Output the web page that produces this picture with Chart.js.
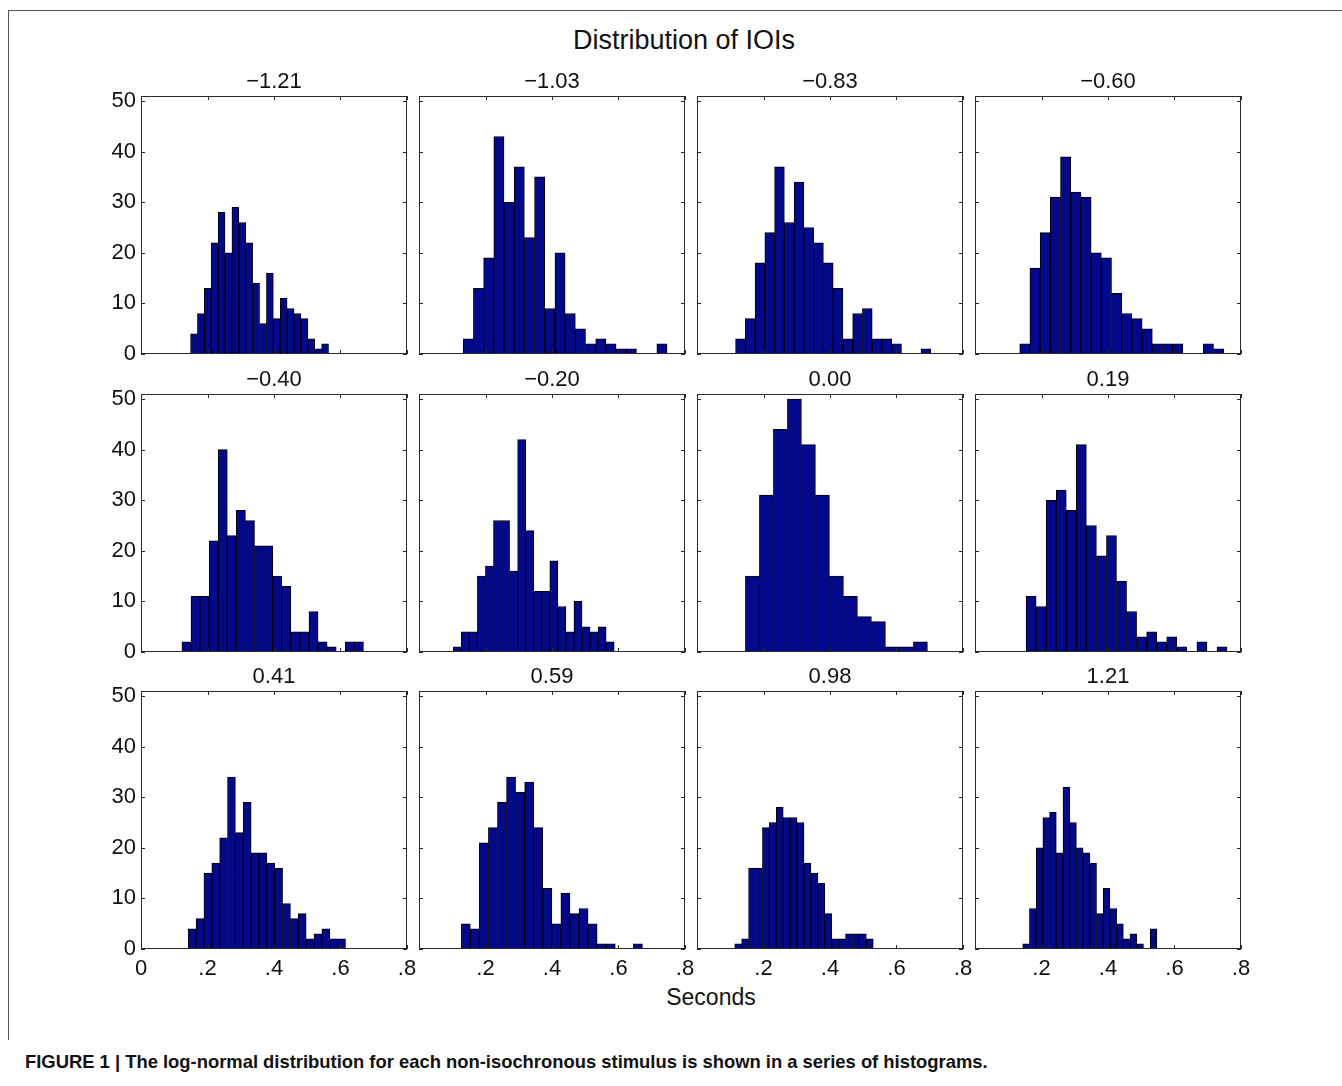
<!DOCTYPE html>
<html>
<head>
<meta charset="utf-8">
<title>Distribution of IOIs</title>
<script src="https://cdn.jsdelivr.net/npm/chart.js@4.4.1/dist/chart.umd.min.js"></script>
<style>
  body { margin: 0; background: #fff; font-family: "Liberation Sans", Arial, sans-serif; color: #111; }
  #page { position: relative; width: 1342px; height: 1086px; overflow: hidden; }
  #page canvas { position: absolute; }
  .frameTop { position: absolute; left: 8px; top: 10px; width: 1334px; height: 1px; background: #555; }
  .frameLeft { position: absolute; left: 8px; top: 10px; width: 1px; height: 1030px; background: #555; }
  #mainTitle { position: absolute; left: 434px; top: 23px; width: 500px; text-align: center; font-size: 27px; line-height: 34px; }
  #xTitle { position: absolute; left: 611px; top: 983px; width: 200px; text-align: center; font-size: 23px; line-height: 28px; }
  #caption { position: absolute; left: 25px; top: 1051px; font-size: 18.4px; line-height: 22px; font-weight: bold; white-space: nowrap; }
</style>
</head>
<body>
<div id="page">
  <div class="frameTop"></div>
  <div class="frameLeft"></div>
  <div id="mainTitle">Distribution of IOIs</div>
  <div id="xTitle">Seconds</div>
  <div id="caption">FIGURE 1 | The log-normal distribution for each non-isochronous stimulus is shown in a series of histograms.</div>
</div>
<script>
// panel titles (stimulus parameter)
const panelTitles = ["−1.21", "−1.03", "−0.83", "−0.60", "−0.40", "−0.20", "0.00", "0.19", "0.41", "0.59", "0.98", "1.21"];

// histogram range (seconds) of each panel
const binLo = [0.149, 0.133, 0.116, 0.1345, 0.123, 0.103, 0.1456, 0.1536, 0.142, 0.127, 0.1135, 0.1436];
const binHi = [0.564, 0.746, 0.703, 0.748, 0.669, 0.587, 0.693, 0.758, 0.615, 0.672, 0.530, 0.547];

// counts per bin
const counts_n121 = [4, 8, 13, 22, 28, 20, 29, 26, 22, 14, 6, 16, 7, 11, 9, 8, 7, 3, 1, 2];
const counts_n103 = [3, 13, 19, 43, 30, 37, 23, 35, 9, 20, 8, 5, 2, 3, 2, 1, 1, 0, 0, 2];
const counts_n083 = [3, 7, 18, 24, 37, 26, 34, 25, 22, 18, 13, 3, 8, 9, 3, 3, 2, 0, 0, 1];
const counts_n060 = [2, 17, 24, 31, 39, 32, 31, 20, 19, 12, 8, 7, 5, 2, 2, 2, 0, 0, 2, 1];
const counts_n040 = [2, 11, 11, 22, 40, 23, 28, 26, 21, 21, 15, 13, 4, 4, 8, 2, 1, 0, 2, 2];
const counts_n020 = [1, 4, 4, 15, 17, 26, 26, 16, 42, 24, 12, 12, 18, 9, 4, 10, 5, 4, 5, 2];
const counts_000 = [15, 31, 44, 50, 41, 31, 15, 11, 7, 6, 1, 1, 2];
const counts_019 = [11, 9, 30, 32, 28, 41, 25, 19, 23, 14, 8, 3, 4, 2, 3, 1, 0, 2, 0, 1];
const counts_041 = [4, 6, 15, 17, 22, 34, 23, 29, 19, 19, 17, 16, 9, 6, 7, 2, 3, 4, 2, 2];
const counts_059 = [5, 4, 21, 24, 29, 34, 31, 33, 24, 12, 5, 11, 7, 8, 5, 1, 1, 0, 0, 1];
const counts_098 = [1, 2, 16, 16, 24, 25, 28, 26, 26, 25, 17, 15, 13, 7, 2, 2, 3, 3, 3, 2];
const counts_121 = [1, 8, 20, 26, 27, 19, 32, 25, 20, 19, 17, 7, 12, 8, 5, 2, 3, 1, 0, 4];

const allCounts = [counts_n121, counts_n103, counts_n083, counts_n060, counts_n040, counts_n020,
                   counts_000, counts_019, counts_041, counts_059, counts_098, counts_121];

// axis ticks
const xTickValues = [0, 0.2, 0.4, 0.6, 0.8];
const xTickLabels = ["0", ".2", ".4", ".6", ".8"];
const yTickValues = [0, 10, 20, 30, 40, 50];
const yTickLabels = ["0", "10", "20", "30", "40", "50"];

// layout
const plotLeft = [141, 419, 697, 975];
const plotTop = [96, 394, 691];
const plotW = 266, plotH = 258;
const padL = 50, padT = 40, padB = 45;

Chart.defaults.font.family = '"Liberation Sans", Arial, sans-serif';
Chart.defaults.color = "#111";

// matlab style box with inward tick marks
const boxTicks = {
  id: "boxTicks",
  afterDraw(chart) {
    const ctx = chart.ctx;
    const a = chart.chartArea;
    const xs = chart.scales.x, ys = chart.scales.y;
    ctx.save();
    ctx.strokeStyle = "#2a2a2a";
    ctx.lineWidth = 1;
    ctx.strokeRect(Math.round(a.left) + 0.5, Math.round(a.top) + 0.5,
                   Math.round(a.right - a.left) - 1, Math.round(a.bottom - a.top) - 1);
    ctx.beginPath();
    xs.ticks.forEach(t => {
      const px = Math.round(xs.getPixelForValue(t.value)) + 0.5;
      ctx.moveTo(px, a.bottom); ctx.lineTo(px, a.bottom - 4);
      ctx.moveTo(px, a.top); ctx.lineTo(px, a.top + 4);
    });
    ys.ticks.forEach(t => {
      const py = Math.round(ys.getPixelForValue(t.value)) + 0.5;
      ctx.moveTo(a.left, py); ctx.lineTo(a.left + 4, py);
      ctx.moveTo(a.right, py); ctx.lineTo(a.right - 4, py);
    });
    ctx.stroke();
    ctx.restore();
  }
};

const page = document.getElementById("page");

allCounts.forEach((counts, i) => {
  const row = Math.floor(i / 4), col = i % 4;
  const canvas = document.createElement("canvas");
  canvas.width = padL + plotW + padL;
  canvas.height = padT + plotH + padB;
  canvas.style.left = (plotLeft[col] - padL) + "px";
  canvas.style.top = (plotTop[row] - padT) + "px";
  page.appendChild(canvas);

  const w = (binHi[i] - binLo[i]) / counts.length;
  const points = counts.map((c, k) => ({ x: binLo[i] + w * (k + 0.5), y: c }));

  new Chart(canvas.getContext("2d"), {
    type: "bar",
    data: {
      datasets: [{
        data: points,
        backgroundColor: "#02098c",
        borderColor: "#000",
        borderWidth: 1,
        borderSkipped: false,
        barPercentage: 1,
        categoryPercentage: 1
      }]
    },
    options: {
      responsive: false,
      animation: false,
      layout: { padding: 0 },
      plugins: {
        legend: { display: false },
        tooltip: { enabled: false },
        title: {
          display: true,
          text: panelTitles[i],
          color: "#111",
          font: { size: 22, weight: "normal" },
          padding: { top: 13, bottom: 0.6 }
        }
      },
      scales: {
        x: {
          type: "linear",
          min: 0, max: 0.8,
          offset: false,
          grid: { display: false, drawTicks: false, offset: false },
          border: { display: false },
          afterBuildTicks: s => { s.ticks = xTickValues.map(v => ({ value: v })); },
          afterFit: s => { s.height = padB; },
          ticks: {
            display: row === 2,
            autoSkip: false,
            maxRotation: 0,
            padding: 7,
            font: { size: 22 },
            color: "#111",
            callback: (v, k) => (col === 0 || k > 0) ? xTickLabels[k] : ""
          }
        },
        y: {
          min: 0, max: 51,
          grid: { display: false, drawTicks: false },
          border: { display: false },
          afterBuildTicks: s => { s.ticks = yTickValues.map(v => ({ value: v })); },
          afterFit: s => { s.width = padL; },
          ticks: {
            display: col === 0,
            padding: 5,
            font: { size: 22 },
            color: "#111",
            callback: (v, k) => yTickLabels[k]
          }
        },
        y2: {
          position: "right",
          min: 0, max: 51,
          grid: { display: false, drawTicks: false },
          border: { display: false },
          afterFit: s => { s.width = padL; },
          ticks: { display: false }
        }
      }
    },
    plugins: [boxTicks]
  });
});
</script>
</body>
</html>
